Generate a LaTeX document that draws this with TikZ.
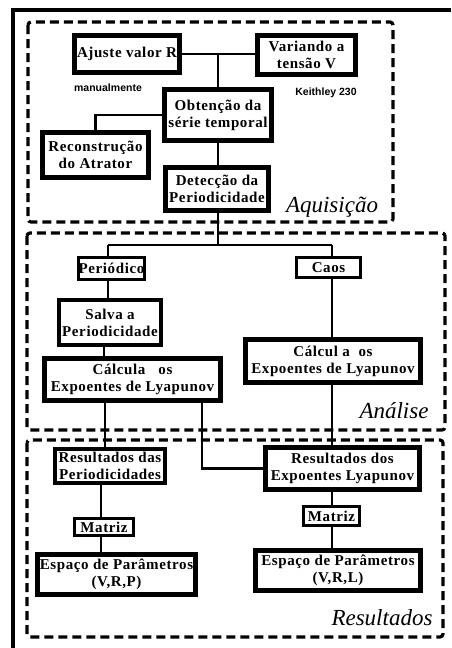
\documentclass[tikz,border=0pt]{standalone}
\usepackage{fontspec}
\setmainfont{Liberation Serif}
\setsansfont{Liberation Sans}
\usepackage{tikz}
\usetikzlibrary{arrows.meta, positioning}

\begin{document}
\begin{tikzpicture}[
    x=1pt, y=-1pt,
    box/.style={rectangle, draw, line width=5pt, inner sep=0pt, align=center, font=\bfseries\fontsize{15}{17}\selectfont\addfontfeatures{LetterSpace=4}},
    smallbox/.style={box, line width=3.2pt},
    note/.style={font=\sffamily\bfseries\fontsize{10.5}{12}\selectfont},
    stage/.style={font=\itshape\fontsize{23}{26}\selectfont, anchor=base},
    region/.style={draw, line width=3.2pt, dash pattern=on 9pt off 5pt, rounded corners=3pt},
    line/.style={line width=2.8pt}
    ]
\useasboundingbox (0,0) rectangle (451,648);

% Frame
\draw[line width=3.2pt] (451,10) -- (13,10) -- (13,648);

% Regions
\draw[region] (28,22) rectangle (393,222);
\draw[region] (27,233) rectangle (445,430);
\draw[region] (27,440) rectangle (443,637);
\node[stage] (aquis) at (332,212) {Aquisição};
\node[stage] (anal) at (394,418) {Análise};
\node[stage] (resul) at (382,625) {Resultados};

% Nodes
\node[box, minimum width=105pt, minimum height=37pt] (ajuste) at (127,54) {Ajuste valor R};
\node[box, minimum width=98pt, minimum height=39pt] (variando) at (306.5,55) {Variando a\\tensão V};
\node[note] (manual) at (108,88) {manualmente};
\node[note] (keith) at (326,93) {Keithley 230};
\node[box, minimum width=107pt, minimum height=51pt] (obtencao) at (218,115) {Obtenção da\\série temporal};
\node[box, line width=4.2pt, minimum width=106pt, minimum height=45pt] (reconst) at (95.5,155) {Reconstrução\\do Atrator};
\node[box, minimum width=103pt, minimum height=43pt] (deteccao) at (217,189) {Detecção da\\Periodicidade};

% Nodes for Analise
\node[smallbox, minimum width=66pt, minimum height=22pt] (periodico) at (111.5,268.5) {Periódico};
\node[smallbox, minimum width=64pt, minimum height=20pt] (caos) at (328.5,267.5) {Caos};
\node[box, line width=4.2pt, minimum width=102pt, minimum height=45pt] (salva) at (110,322.5) {Salva a\\Periodicidade};
\node[box, minimum width=176pt, minimum height=42pt] (calcP) at (132.5,379.5) {Cálcula\ \ \ os\\Expoentes de Lyapunov};
\node[box, minimum width=175pt, minimum height=43pt] (calcC) at (333,361) {Cálcul a\ \ os\\Expoentes de Lyapunov};

% Nodes for Resultados
\node[box, line width=4.2pt, minimum width=110pt, minimum height=34pt] (resP) at (110,466) {Resultados das\\Periodicidades};
\node[box, minimum width=154pt, minimum height=42pt] (resL) at (342.5,468.5) {Resultados dos\\Expoentes Lyapunov};
\node[smallbox, minimum width=59pt, minimum height=17pt] (matP) at (104,527) {Matriz};
\node[smallbox, minimum width=56pt, minimum height=19pt] (matL) at (331.5,516) {Matriz};
\node[box, minimum width=158pt, minimum height=40pt] (espP) at (116.5,574.5) {Espaço de Parâmetros\\(V,R,P)};
\node[box, minimum width=165pt, minimum height=40pt] (espL) at (338,570.5) {Espaço de Parâmetros\\(V,R,L)};

% Lines
\coordinate (join) at (ajuste.east -| obtencao.north);
\coordinate (split) at (218,245);
\coordinate (bend) at (202,466);
\draw[line] (ajuste.east) -- (ajuste.east -| variando.west);
\draw[line] (join) -- (obtencao.north);
\draw[line] (reconst.north) |- (obtencao.west);
\draw[line] (obtencao.south) -- (obtencao.south |- deteccao.north);
\draw[line] (obtencao.south |- deteccao.south) -- (split);
\draw[line] (108,245) -- (332,245);
\draw[line] (108,245) -- (108,245 |- periodico.north);
\draw[line] (332,245) -- (332,245 |- caos.north);
\draw[line] (108,0 |- periodico.south) -- (108,0 |- salva.north);
\draw[line] (104,0 |- salva.south) -- (104,0 |- calcP.north);
\draw[line] (332,0 |- caos.south) -- (332,0 |- calcC.north);
\draw[line] (105,0 |- calcP.south) -- (105,0 |- resP.north);
\draw[line] (bend |- calcP.south) |- (resL.west);
\draw[line] (332,0 |- calcC.south) -- (332,0 |- resL.north);
\draw[line] (101,0 |- resP.south) -- (101,0 |- matP.north);
\draw[line] (101,0 |- matP.south) -- (101,0 |- espP.north);
\draw[line] (332,0 |- resL.south) -- (332,0 |- matL.north);
\draw[line] (332,0 |- matL.south) -- (332,0 |- espL.north);

\end{tikzpicture}
\end{document}
